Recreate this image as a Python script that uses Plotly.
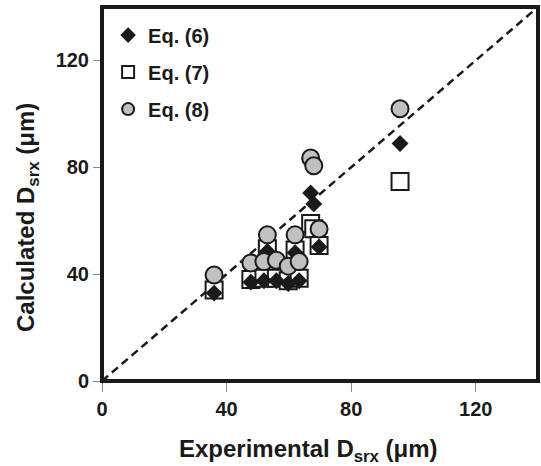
import plotly.graph_objects as go

# Data
experimental = [36, 47.8, 52, 53.1, 56, 59.8, 62, 63.3, 67, 68, 69.7, 95.7]
eq6 = [32.9, 37.0, 37.5, 48.5, 37.5, 36.5, 48.0, 37.5, 70.4, 66.3, 50.2, 88.9]
eq7 = [34.1, 38.0, 38.5, 49.5, 38.5, 37.5, 49.0, 38.5, 59.0, 57.0, 50.7, 74.7]
eq8 = [39.7, 44.2, 44.7, 54.7, 45.2, 43.0, 54.7, 44.7, 83.5, 80.6, 56.9, 101.9]
diag = [0, 140]
tick_vals = [0, 40, 80, 120]

FONT = "Liberation Sans, Arial, sans-serif"
DARK = "#1a1a1a"

fig = go.Figure()
fig.add_trace(go.Scatter(x=diag, y=diag, mode="lines", showlegend=False,
                         line=dict(color=DARK, width=2.5, dash="8px,5px"),
                         hoverinfo="skip"))
fig.add_trace(go.Scatter(x=experimental, y=eq7, mode="markers", name="Eq. (7)",
                         legendrank=2, legendgroup="b",
                         marker=dict(symbol="square", size=17, color="white",
                                     line=dict(color=DARK, width=2))))
fig.add_trace(go.Scatter(x=experimental, y=eq6, mode="markers", name="Eq. (6)",
                         legendrank=1, legendgroup="a",
                         marker=dict(symbol="diamond", size=13, color=DARK,
                                     line=dict(color=DARK, width=0))))
fig.add_trace(go.Scatter(x=experimental, y=eq8, mode="markers", name="Eq. (8)",
                         legendrank=3, legendgroup="c",
                         marker=dict(symbol="circle", size=17, color="#c0c0c0",
                                     line=dict(color=DARK, width=2))))

axis_common = dict(range=[0, 140], tickvals=tick_vals, showgrid=False, zeroline=False,
                   showline=False, ticks="outside", tickcolor="#8a8a8a", tickwidth=1,
                   tickfont=dict(family=FONT, size=20, color=DARK, weight="bold"))

fig.update_layout(
    width=541, height=466,
    margin=dict(l=102, r=3, t=7, b=85),
    paper_bgcolor="white", plot_bgcolor="white",
    xaxis=dict(**axis_common, ticklen=10),
    yaxis=dict(**axis_common, ticklen=8),
    legend=dict(x=0.014, y=0.977, xanchor="left", yanchor="top",
                bgcolor="rgba(0,0,0,0)", traceorder="grouped", tracegroupgap=8,
                itemsizing="constant",
                font=dict(family=FONT, size=20, color=DARK, weight="bold")),
    shapes=[dict(type="rect", xref="paper", yref="paper", x0=0, x1=1, y0=0, y1=1,
                 line=dict(color=DARK, width=4), layer="above")],
    annotations=[
        dict(text="<b>Experimental D<sub>srx</sub> (μm)</b>", xref="paper", yref="paper",
             x=(308 - 102) / 436, y=-(450 - 381) / 374, xanchor="center", yanchor="middle",
             showarrow=False, font=dict(family=FONT, size=24, color=DARK)),
        dict(text="<b>Calculated D<sub>srx</sub> (μm)</b>", xref="paper", yref="paper",
             x=-(102 - 27) / 436, y=(381 - 218) / 374, xanchor="center", yanchor="middle",
             textangle=-90, showarrow=False, font=dict(family=FONT, size=24, color=DARK)),
    ],
)

fig.write_html("out.html")
